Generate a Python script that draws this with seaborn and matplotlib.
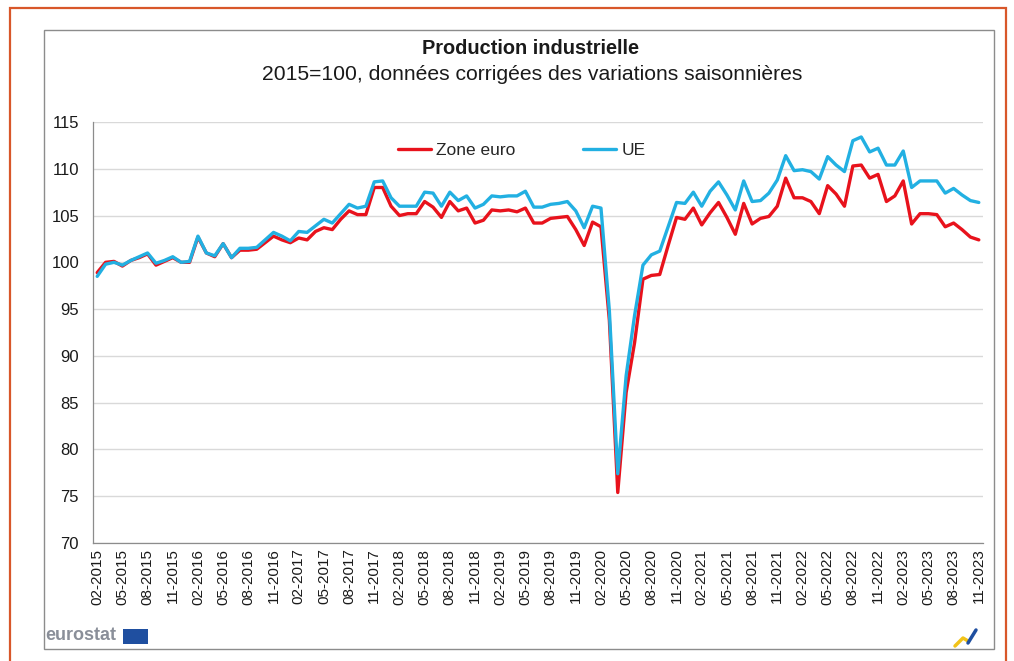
import pandas as pd
import matplotlib
matplotlib.use("Agg")
import matplotlib.pyplot as plt
import seaborn as sns
from matplotlib.patches import Rectangle
from matplotlib.lines import Line2D

# mois de 02-2015 à 11-2023
mois = pd.period_range("2015-02", "2023-11", freq="M")
etiquettes = [p.strftime("%m-%Y") for p in mois]

zone_euro = [
    98.9, 100.0, 100.1, 99.6, 100.2, 100.5, 100.9, 99.7, 100.1, 100.5, 100.0, 100.0,
    102.7, 101.0, 100.6, 102.0, 100.5, 101.3, 101.3, 101.4, 102.1, 102.8, 102.4, 102.1,
    102.6, 102.4, 103.3, 103.7, 103.5, 104.6, 105.5, 105.1, 105.1, 108.0, 108.0, 106.0,
    105.0, 105.2, 105.2, 106.5, 105.9, 104.8, 106.5, 105.5, 105.8, 104.2, 104.5, 105.6,
    105.5, 105.6, 105.4, 105.8, 104.2, 104.2, 104.7, 104.8, 104.9, 103.5, 101.8, 104.3,
    103.8, 93.8, 75.4, 86.1, 91.4, 98.2, 98.6, 98.7, 101.8, 104.8, 104.6, 105.8,
    104.0, 105.3, 106.4, 104.8, 103.0, 106.3, 104.1, 104.7, 104.9, 106.0, 109.0, 106.9,
    106.9, 106.5, 105.2, 108.2, 107.3, 106.0, 110.3, 110.4, 109.0, 109.4, 106.5, 107.1,
    108.7, 104.1, 105.2, 105.2, 105.1, 103.8, 104.2, 103.5, 102.7, 102.4,
]

ue = [
    98.5, 99.8, 100.0, 99.7, 100.2, 100.6, 101.0, 99.9, 100.2, 100.6, 100.0, 100.1,
    102.8, 101.0, 100.7, 102.0, 100.5, 101.5, 101.5, 101.6, 102.4, 103.2, 102.8, 102.3,
    103.3, 103.2, 103.9, 104.6, 104.2, 105.2, 106.2, 105.8, 106.0, 108.6, 108.7, 106.9,
    106.0, 106.0, 106.0, 107.5, 107.4, 106.0, 107.5, 106.6, 107.1, 105.8, 106.2, 107.1,
    107.0, 107.1, 107.1, 107.6, 105.9, 105.9, 106.2, 106.3, 106.5, 105.5, 103.7, 106.0,
    105.8, 94.8, 77.4, 87.9, 94.3, 99.7, 100.8, 101.2, 103.8, 106.4, 106.3, 107.5,
    106.0, 107.6, 108.6, 107.2, 105.6, 108.7, 106.5, 106.6, 107.4, 108.8, 111.4, 109.8,
    109.9, 109.7, 108.9, 111.3, 110.4, 109.7, 113.0, 113.4, 111.8, 112.2, 110.4, 110.4,
    111.9, 108.0, 108.7, 108.7, 108.7, 107.4, 107.9, 107.2, 106.6, 106.4,
]

n = len(mois)
df = pd.DataFrame({
    "mois": list(range(n)) * 2,
    "indice": zone_euro + ue,
    "serie": ["Zone euro"] * n + ["UE"] * n,
})

sns.set_theme(style="white")
plt.rcParams["font.family"] = ["Liberation Sans", "DejaVu Sans"]

W, H = 1014, 661
fig = plt.figure(figsize=(W / 100, H / 100), dpi=100)

# cadres décoratifs
fig.add_artist(Rectangle((10 / W, -0.02), 996 / W, 1 - 8 / H + 0.02, transform=fig.transFigure,
                         fill=False, edgecolor="#d8572a", lw=1.6))
fig.add_artist(Rectangle((44 / W, 1 - 649 / H), 950 / W, 619 / H, transform=fig.transFigure,
                         fill=False, edgecolor="#8c8c8c", lw=1.0))

ax = fig.add_axes([93 / W, 1 - 543 / H, 890 / W, 421 / H])
sns.lineplot(data=df, x="mois", y="indice", hue="serie",
             palette={"Zone euro": "#e8121c", "UE": "#22b0e2"},
             linewidth=2.4, ax=ax)

ax.set_xlim(-0.5, n - 0.5)
ax.set_ylim(70, 115)
ax.set_yticks(range(70, 116, 5))
ax.set_xticks(range(0, n, 3))
ax.set_xticklabels(etiquettes[::3], rotation=90, fontsize=11, color="#1a1a1a")
ax.set_xticks([x - 0.5 for x in range(0, n + 1, 3)], minor=True)
ax.tick_params(axis="x", which="major", length=0, pad=4)
ax.tick_params(axis="x", which="minor", length=5, width=0.8, color="#8c8c8c", direction="out")
ax.tick_params(axis="y", length=5, width=0.8, color="#8c8c8c", direction="out",
               labelsize=12, labelcolor="#1a1a1a", pad=5)
ax.set_xlabel("")
ax.set_ylabel("")
ax.yaxis.grid(True, color="#d9d9d9", lw=1)
ax.xaxis.grid(False)
for s in ["top", "right"]:
    ax.spines[s].set_visible(False)
for s in ["left", "bottom"]:
    ax.spines[s].set_color("#8c8c8c")
    ax.spines[s].set_linewidth(0.9)

ax.legend(loc="center", bbox_to_anchor=(0.482, 0.933), ncol=2, frameon=False,
          handlelength=1.9, columnspacing=3.9, handletextpad=0.3, fontsize=12.5)

fig.text(531 / W, 1 - 48 / H, "Production industrielle", ha="center", va="center",
         fontsize=14.4, fontweight="bold", color="#1a1a1a")
fig.text(532 / W, 1 - 75 / H, "2015=100, données corrigées des variations saisonnières",
         ha="center", va="center", fontsize=15.2, color="#1a1a1a")

# logos
fig.text(45 / W, 1 - 636 / H, "eurostat", ha="left", va="center", fontsize=13,
         fontweight="bold", color="#8a8f99")
fig.add_artist(Rectangle((123 / W, 1 - 644 / H), 25 / W, 15 / H, transform=fig.transFigure,
                         facecolor="#1f4fa0", edgecolor="none"))
fig.add_artist(Line2D([955 / W, 963 / W, 968 / W], [1 - 646 / H, 1 - 638 / H, 1 - 641 / H],
                      transform=fig.transFigure, color="#f2c318", lw=2.5))
fig.add_artist(Line2D([968 / W, 976 / W], [1 - 643 / H, 1 - 630 / H],
                      transform=fig.transFigure, color="#1f4fa0", lw=2.5))

fig.savefig("out.png", dpi=100)
